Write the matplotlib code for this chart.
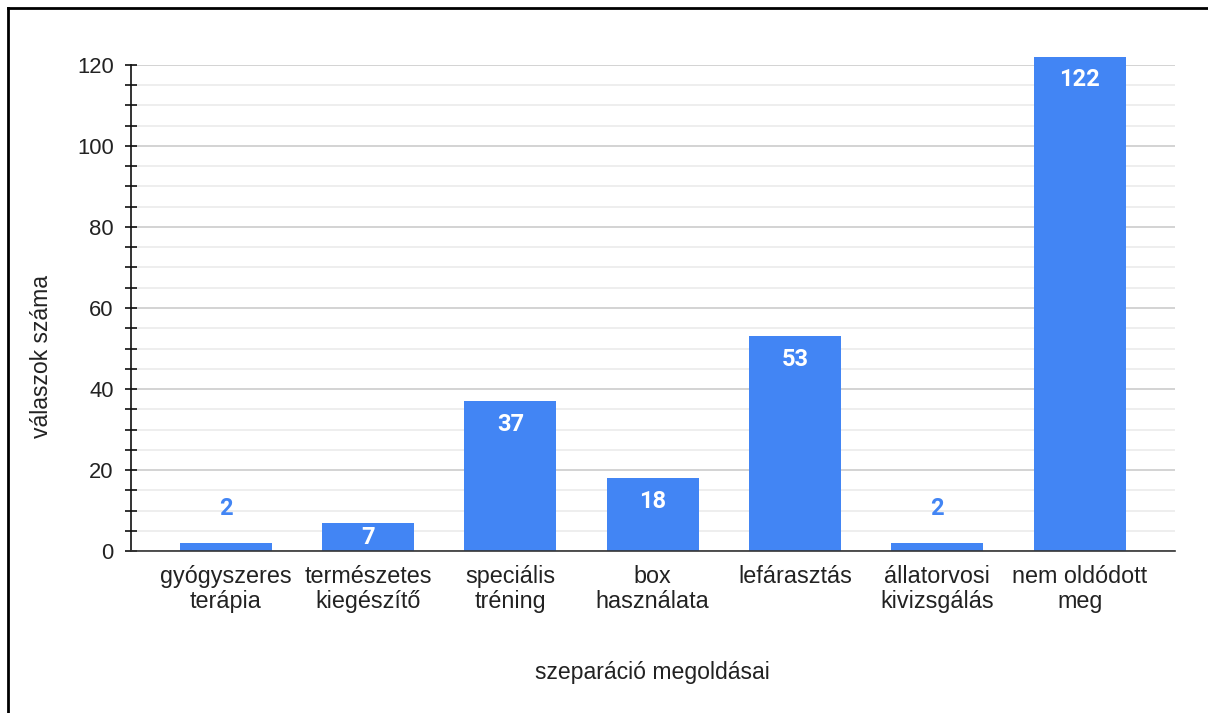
import matplotlib.pyplot as plt
from matplotlib.ticker import MultipleLocator
from matplotlib.lines import Line2D

categories = ["gyógyszeres\nterápia", "természetes\nkiegészítő", "speciális\ntréning",
              "box\nhasználata", "lefárasztás", "állatorvosi\nkivizsgálás", "nem oldódott\nmeg"]
values = [2, 7, 37, 18, 53, 2, 122]
yticks = [0, 20, 40, 60, 80, 100, 120]

BLUE = '#4285F4'
W, H = 1208, 713

plt.rcParams['font.family'] = ['Liberation Sans', 'DejaVu Sans']

fig = plt.figure(figsize=(W / 100, H / 100), dpi=100)
ax = fig.add_axes([131 / W, 1 - 551 / H, (1175 - 131) / W, (551 - 65) / H])

x = list(range(len(categories)))
bars = ax.bar(x, values, width=0.645, color=BLUE, zorder=3, clip_on=False)

ax.set_xlim(-0.665, 6.67)
ax.set_ylim(0, 120)
ax.set_yticks(yticks)
ax.yaxis.set_minor_locator(MultipleLocator(5))
ax.set_xticks(x)
ax.set_xticklabels(categories, fontsize=16.8, color='#222222', linespacing=1.1)
ax.tick_params(axis='x', length=0, pad=10)
ax.tick_params(axis='y', which='major', direction='inout', length=9, width=1.2,
               labelsize=15.8, colors='#111111', pad=8)
ax.tick_params(axis='y', which='minor', direction='inout', length=9, width=1.2, colors='#111111')
for t in ax.get_yticklabels():
    t.set_color('#222222')

ax.grid(axis='y', which='major', color='#cccccc', linewidth=1.2, zorder=0)
ax.grid(axis='y', which='minor', color='#ebebeb', linewidth=1.2, zorder=0)

for s in ['top', 'right']:
    ax.spines[s].set_visible(False)
ax.spines['left'].set_color('#111111')
ax.spines['left'].set_linewidth(1.2)
ax.spines['bottom'].set_color('#333333')
ax.spines['bottom'].set_linewidth(1.2)
ax.spines['bottom'].set_zorder(4)

# pixels per data unit, to place labels inside the bar tops
ppu = ax.bbox.height / (ax.get_ylim()[1] - ax.get_ylim()[0])

for b, v in zip(bars, values):
    cx = b.get_x() + b.get_width() / 2
    if v < 5:
        ax.text(cx, v + 34 / ppu, str(v), ha='center', va='center', color=BLUE,
                fontsize=17, fontweight='bold', family=['Roboto', 'DejaVu Sans'], zorder=5)
    else:
        yc = max(v - 23 / ppu, 13 / ppu)
        ax.text(cx, yc, str(v), ha='center', va='center', color='white',
                fontsize=17, fontweight='bold', family=['Roboto', 'DejaVu Sans'], zorder=5,
                clip_on=False)

fig.text(652 / W, 1 - 672 / H, "szeparáció megoldásai", ha='center', va='center',
         fontsize=16.6, color='#222222')
fig.text(42 / W, 1 - 357 / H, "válaszok száma", ha='center', va='center',
         rotation=90, fontsize=16.6, color='#222222')

# border on left and top
fig.add_artist(Line2D([8 / W, 8 / W], [0, 1 - 8 / H], color='black', linewidth=2,
                      transform=fig.transFigure))
fig.add_artist(Line2D([8 / W, 1], [1 - 8 / H, 1 - 8 / H], color='black', linewidth=2,
                      transform=fig.transFigure))

fig.savefig('out.png', dpi=100)
